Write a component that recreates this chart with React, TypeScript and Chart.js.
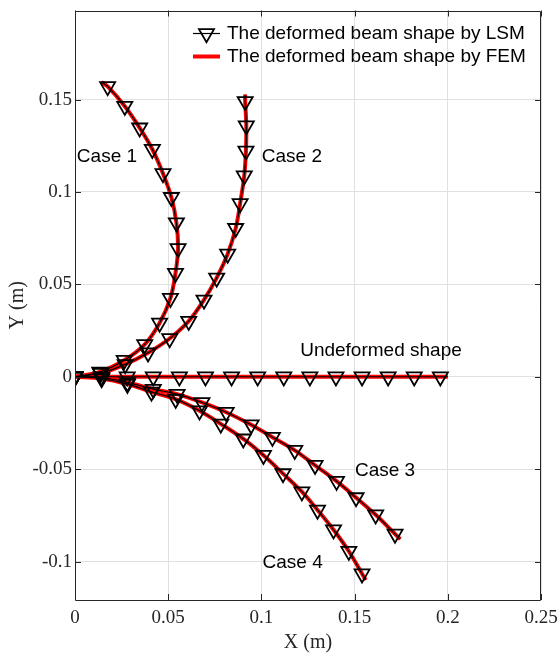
import React, { useEffect, useRef } from 'react';
import { Chart, registerables } from 'chart.js';

Chart.register(...registerables);

// ---- data (metres) ----
const undefX = [0, 0.014, 0.028, 0.042, 0.056, 0.07, 0.084, 0.098, 0.112, 0.126, 0.14, 0.154, 0.168, 0.182, 0.196, 0.2];
const undefY = [0, 0, 0, 0, 0, 0, 0, 0, 0, 0, 0, 0, 0, 0, 0, 0];

const case1X = [0, 0.0133, 0.0264, 0.0374, 0.0454, 0.0512, 0.0539, 0.0553, 0.0544, 0.0517, 0.0472, 0.0415, 0.0347, 0.0267, 0.0175, 0.0142];
const case1Y = [0, 0.0026, 0.0089, 0.0175, 0.0291, 0.0425, 0.056, 0.0694, 0.0834, 0.0971, 0.11, 0.1231, 0.1347, 0.1464, 0.1571, 0.1595];

const case2X = [0, 0.0138, 0.0269, 0.0392, 0.0508, 0.061, 0.0692, 0.076, 0.0819, 0.0862, 0.0886, 0.0908, 0.0917, 0.0919, 0.0913, 0.0913];
const case2Y = [0, 0.0019, 0.0067, 0.013, 0.0207, 0.0301, 0.0416, 0.0535, 0.0664, 0.0803, 0.0938, 0.1088, 0.1222, 0.1358, 0.149, 0.1527];

const case3X = [0, 0.0143, 0.0281, 0.042, 0.0548, 0.0681, 0.0811, 0.0945, 0.1059, 0.1179, 0.1288, 0.1403, 0.1508, 0.1613, 0.1717, 0.1745];
const case3Y = [0, -0.0004, -0.0031, -0.0067, -0.0094, -0.0139, -0.0192, -0.026, -0.0327, -0.0398, -0.0479, -0.0565, -0.0654, -0.0747, -0.0851, -0.0879];

const case4X = [0, 0.0143, 0.0281, 0.041, 0.054, 0.0668, 0.0782, 0.0903, 0.1011, 0.1116, 0.1217, 0.1301, 0.1387, 0.1469, 0.154, 0.156];
const case4Y = [0, -0.001, -0.004, -0.0082, -0.0121, -0.0184, -0.0255, -0.0336, -0.0425, -0.0524, -0.0622, -0.0721, -0.0828, -0.0944, -0.1066, -0.11];

const xTicks = [0, 0.05, 0.1, 0.15, 0.2, 0.25];
const yTicks = [-0.1, -0.05, 0, 0.05, 0.1, 0.15];

const legendLabels = ['The deformed beam shape by LSM', 'The deformed beam shape by FEM'];

const annoText = ['Case 1', 'Case 2', 'Undeformed shape', 'Case 3', 'Case 4'];
const annoX = [0.001, 0.1002, 0.1208, 0.1502, 0.1006];
const annoY = [0.1192, 0.1192, 0.0138, -0.0506, -0.1006];

const curvesX = [undefX, case1X, case2X, case3X, case4X];
const curvesY = [undefY, case1Y, case2Y, case3Y, case4Y];

const fmt = (v: number) => String(+Number(v).toFixed(3));

const AXIS_COLOR = '#262626';
const MARKER_R = 8.7;
const MARKER_W = 1.8;

function drawDownTriangle(ctx: CanvasRenderingContext2D, x: number, y: number, r: number) {
  ctx.beginPath();
  for (let k = 0; k < 3; k++) {
    const a = Math.PI + k * (2 * Math.PI / 3);
    const px = x + Math.sin(a) * r;
    const py = y - Math.cos(a) * r;
    if (k === 0) ctx.moveTo(px, py); else ctx.lineTo(px, py);
  }
  ctx.closePath();
  ctx.stroke();
}

const boxPlugin = {
  id: 'boxPlugin',
  afterDraw(chart: any) {
    const { ctx, chartArea } = chart;
    const { left, right, top, bottom } = chartArea;
    const xs = chart.scales.x;
    const ys = chart.scales.y;
    const tl = 6;
    ctx.save();
    ctx.strokeStyle = AXIS_COLOR;
    ctx.lineWidth = 1;
    ctx.beginPath();
    ctx.rect(Math.round(left) + 0.5, Math.round(top) + 0.5, Math.round(right - left) - 1, Math.round(bottom - top) - 1);
    ctx.stroke();
    ctx.beginPath();
    xTicks.forEach((v) => {
      const px = Math.round(xs.getPixelForValue(v)) + 0.5;
      ctx.moveTo(px, bottom);
      ctx.lineTo(px, bottom - tl);
      ctx.moveTo(px, top);
      ctx.lineTo(px, top + tl);
    });
    yTicks.forEach((v) => {
      const py = Math.round(ys.getPixelForValue(v)) + 0.5;
      ctx.moveTo(left, py);
      ctx.lineTo(left + tl, py);
      ctx.moveTo(right, py);
      ctx.lineTo(right - tl, py);
    });
    ctx.stroke();
    ctx.restore();
  },
};

const annoPlugin = {
  id: 'annoPlugin',
  afterDatasetsDraw(chart: any) {
    const { ctx } = chart;
    const xs = chart.scales.x;
    const ys = chart.scales.y;
    ctx.save();
    ctx.font = '19px "Liberation Sans", Arial, sans-serif';
    ctx.fillStyle = '#000';
    ctx.textAlign = 'left';
    ctx.textBaseline = 'middle';
    annoText.forEach((t, i) => {
      ctx.fillText(t, xs.getPixelForValue(annoX[i]), ys.getPixelForValue(annoY[i]));
    });
    ctx.restore();
  },
};

const legendPlugin = {
  id: 'legendPlugin',
  afterDraw(chart: any) {
    const { ctx, chartArea } = chart;
    const textX = chartArea.right - 314;
    const lineX0 = textX - 34;
    const lineX1 = textX - 7;
    const rows = [chartArea.top + 23, chartArea.top + 46];
    ctx.save();
    ctx.font = '19px "Liberation Sans", Arial, sans-serif';
    ctx.fillStyle = '#000';
    ctx.textAlign = 'left';
    ctx.textBaseline = 'middle';
    // LSM
    ctx.strokeStyle = '#000';
    ctx.lineWidth = 1.2;
    ctx.beginPath();
    ctx.moveTo(lineX0, rows[0]);
    ctx.lineTo(lineX1, rows[0]);
    ctx.stroke();
    ctx.lineWidth = MARKER_W;
    drawDownTriangle(ctx, (lineX0 + lineX1) / 2, rows[0], MARKER_R);
    ctx.fillText(legendLabels[0], textX, rows[0]);
    // FEM
    ctx.strokeStyle = '#ff0000';
    ctx.lineWidth = 4;
    ctx.beginPath();
    ctx.moveTo(lineX0, rows[1]);
    ctx.lineTo(lineX1, rows[1]);
    ctx.stroke();
    ctx.fillText(legendLabels[1], textX, rows[1]);
    ctx.restore();
  },
};

export default function App() {
  const canvasRef = useRef<HTMLCanvasElement | null>(null);

  useEffect(() => {
    const canvas = canvasRef.current;
    if (!canvas) return;

    const lsmSets = curvesX.map((xs, c) => ({
      label: 'LSM ' + c,
      data: xs.map((x, i) => ({ x, y: curvesY[c][i] })),
      showLine: true,
      borderColor: '#000',
      borderWidth: 1.2,
      tension: 0.35,
      pointStyle: 'triangle',
      rotation: 180,
      pointRadius: xs.map((_, i) => (i === xs.length - 1 ? 0 : MARKER_R)),
      pointBorderColor: '#000',
      pointBackgroundColor: 'rgba(0,0,0,0)',
      pointBorderWidth: MARKER_W,
      order: 0,
    }));
    const femSets = curvesX.map((xs, c) => ({
      label: 'FEM ' + c,
      data: xs.map((x, i) => ({ x, y: curvesY[c][i] })),
      showLine: true,
      borderColor: '#ff0000',
      borderWidth: 4,
      tension: 0.35,
      pointRadius: 0,
      order: 1,
    }));

    const chart = new Chart(canvas, {
      type: 'scatter',
      data: { datasets: [...lsmSets, ...femSets] as any },
      options: {
        animation: false,
        responsive: false,
        devicePixelRatio: 1,
        events: [],
        layout: { padding: { left: 0, right: 17, top: 6, bottom: 0 } },
        plugins: { legend: { display: false }, tooltip: { enabled: false } },
        scales: {
          x: {
            type: 'linear',
            min: 0,
            max: 0.25,
            afterBuildTicks: (s: any) => { s.ticks = xTicks.map((v) => ({ value: v })); },
            afterFit: (s: any) => { s.height = 55; s.paddingLeft = 0; s.paddingRight = 0; },
            ticks: {
              callback: (v: any) => fmt(v),
              color: AXIS_COLOR,
              padding: 7,
              maxRotation: 0,
              font: { family: '"Liberation Serif", "Times New Roman", serif', size: 19 },
            },
            grid: { color: '#e0e0e0', drawTicks: false, lineWidth: 1 },
            border: { display: false },
            title: {
              display: true,
              text: 'X (m)',
              color: AXIS_COLOR,
              padding: 0,
              font: { family: '"Liberation Serif", "Times New Roman", serif', size: 20 },
            },
          },
          y: {
            type: 'linear',
            min: -0.1208,
            max: 0.1982,
            afterBuildTicks: (s: any) => { s.ticks = yTicks.map((v) => ({ value: v })); },
            afterFit: (s: any) => { s.width = 75; s.paddingTop = 0; s.paddingBottom = 0; },
            ticks: {
              callback: (v: any) => fmt(v),
              color: AXIS_COLOR,
              padding: 3,
              font: { family: '"Liberation Serif", "Times New Roman", serif', size: 19 },
            },
            grid: { color: '#e0e0e0', drawTicks: false, lineWidth: 1 },
            border: { display: false },
            title: {
              display: true,
              text: 'Y (m)',
              color: AXIS_COLOR,
              padding: { top: 6, bottom: 0 },
              font: { family: '"Liberation Serif", "Times New Roman", serif', size: 20 },
            },
          },
        },
      },
      plugins: [annoPlugin, boxPlugin, legendPlugin],
    } as any);

    return () => chart.destroy();
  }, []);

  return (
    <div style={{ position: 'fixed', left: 0, top: 0, width: 558, height: 655, background: '#fff' }}>
      <canvas ref={canvasRef} width={558} height={655} style={{ display: 'block', width: 558, height: 655 }} />
    </div>
  );
}
